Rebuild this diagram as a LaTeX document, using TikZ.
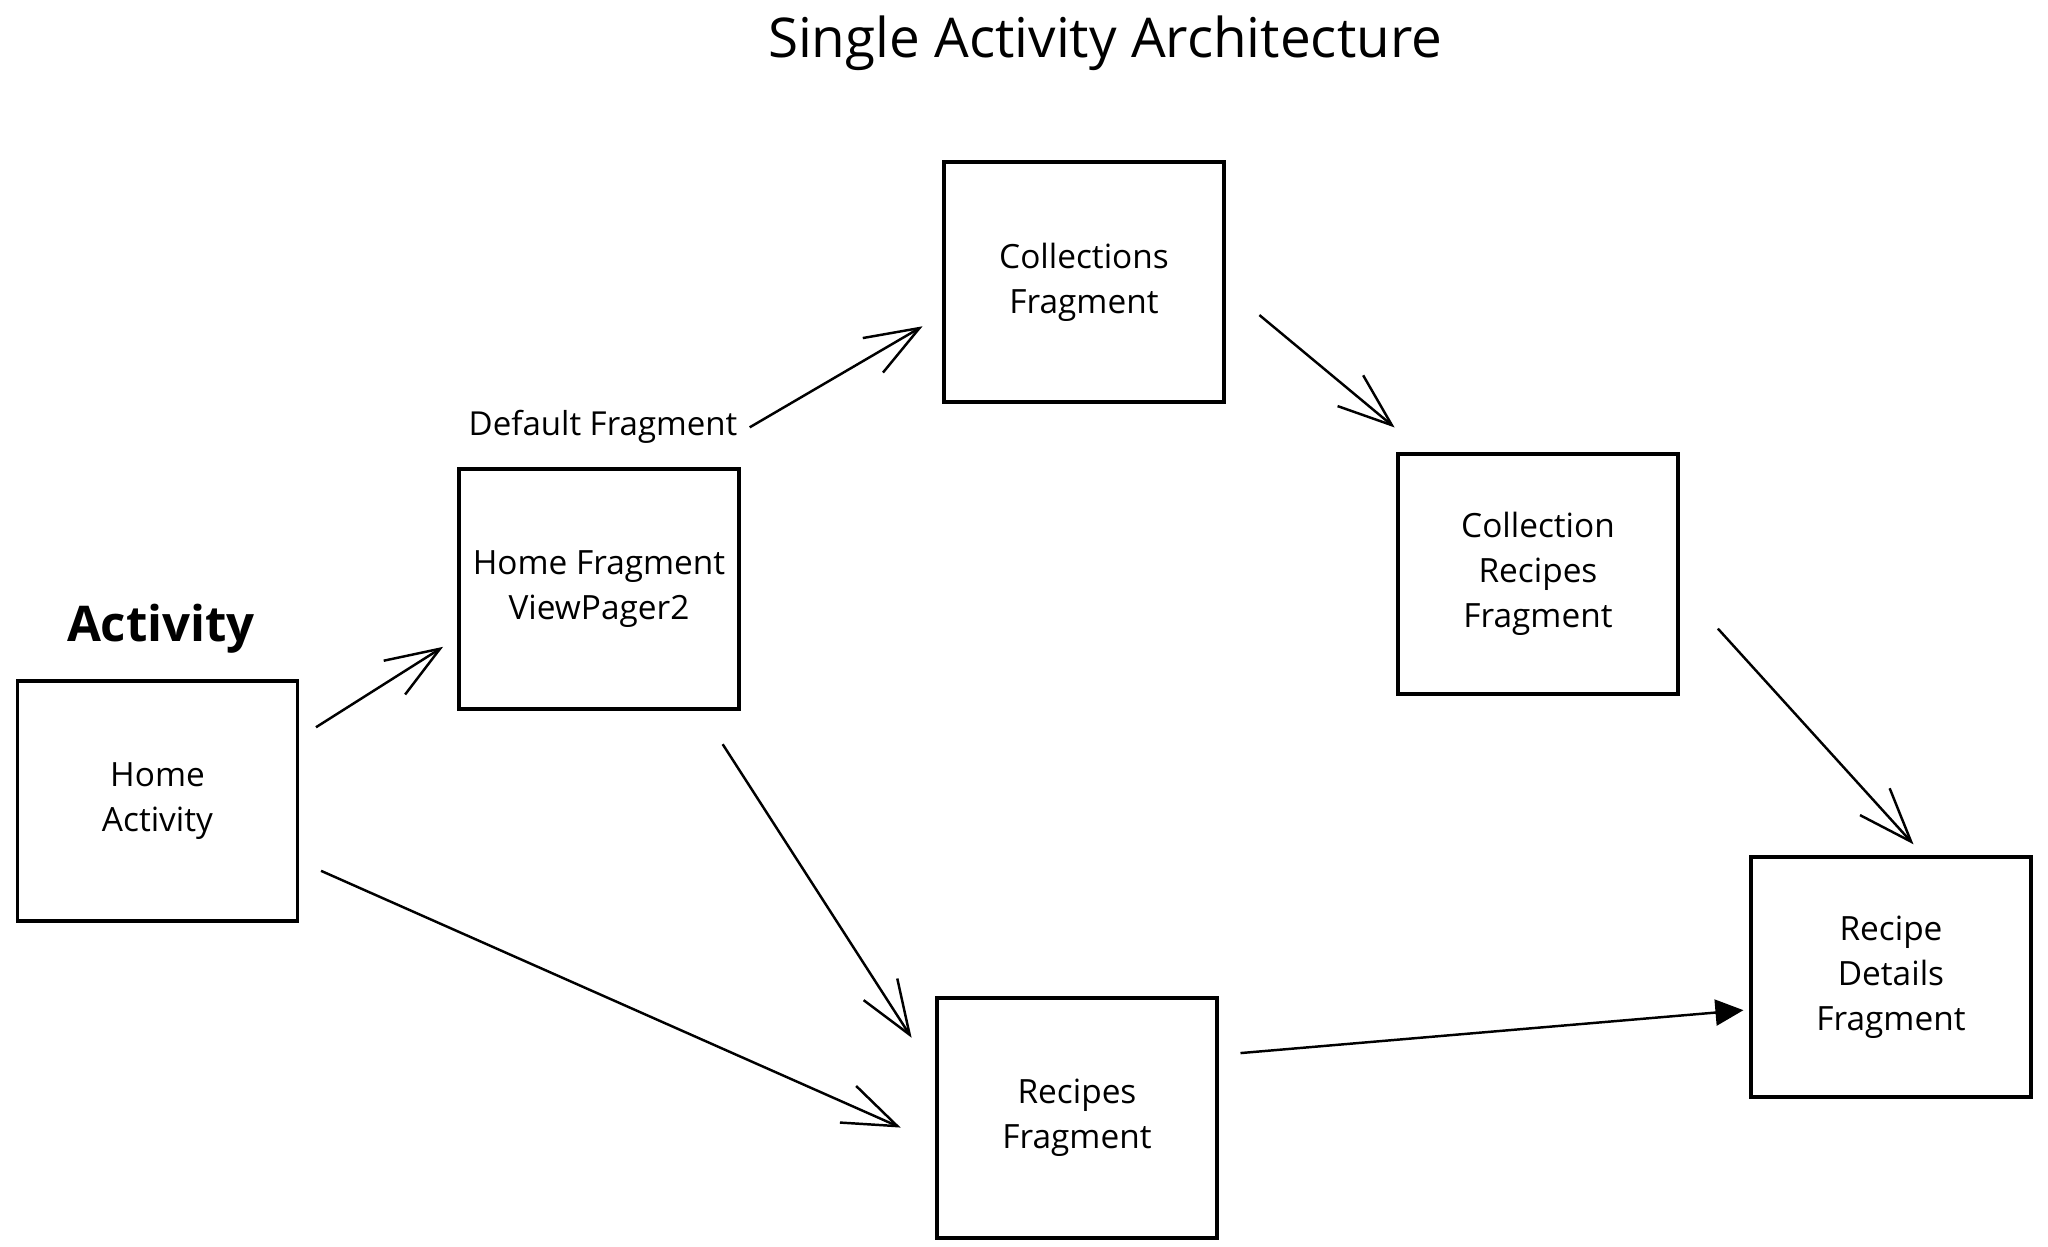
\documentclass[tikz,border=0pt]{standalone}
\usepackage{fontspec}
\setmainfont{Open Sans}
\usetikzlibrary{arrows.meta}
\begin{document}
\begin{tikzpicture}[box/.style={draw,line width=0.9pt,minimum width=2.8cm,minimum height=2.4cm,align=center,font=\fontsize{9.5}{12.8}\selectfont},
arr/.style={line width=0.7pt,-{Straight Barb[length=0.54cm,width=0.4cm]}}]
\useasboundingbox (0,0) rectangle (20.48,12.46);
\node[anchor=base,font=\fontsize{15.6}{18}\selectfont] at (11.05,11.88) (title) {Single Activity Architecture};
\node[anchor=base,font=\bfseries\fontsize{14}{17}\selectfont] at (1.61,6.04) (act) {Activity};
\node[box] at (1.575,4.45) (homeact) {Home\\Activity};
\node[box] at (5.99,6.57) (homefrag) {Home Fragment\\ViewPager2};
\node[box] at (10.84,9.64) (colls) {Collections\\Fragment};
\node[box] at (15.38,6.72) (collrec) {Collection\\Recipes\\Fragment};
\node[box] at (10.77,1.28) (recipes) {Recipes\\Fragment};
\node[box] at (18.91,2.69) (details) {Recipe\\Details\\Fragment};
\node[anchor=base,font=\fontsize{9.4}{11}\selectfont] at (6.03,8.10) (deflt) {Default Fragment};
\draw[arr,shorten <=0.2cm,shorten >=0.17cm] (homeact.24) -- (homefrag.199);
\draw[arr,shorten <=0.24cm,shorten >=0.38cm] (homeact.-23) -- (recipes.190);
\draw[arr,shorten <=0.4cm,shorten >=0.44cm] (homefrag.-50) -- (recipes.163);
\draw[arr,shorten >=0.23cm] (deflt.east) -- (colls.193);
\draw[arr,shorten <=0.44cm,shorten >=0.39cm] (colls.-2) -- (collrec.133);
\draw[arr,shorten <=0.57cm,shorten >=0.15cm] (collrec.-5) -- (details.75);
\draw[line width=0.7pt,-{Triangle[length=0.28cm,width=0.26cm]},shorten <=0.22cm,shorten >=0.06cm] (recipes.24) -- (details.193);
\end{tikzpicture}
\end{document}
